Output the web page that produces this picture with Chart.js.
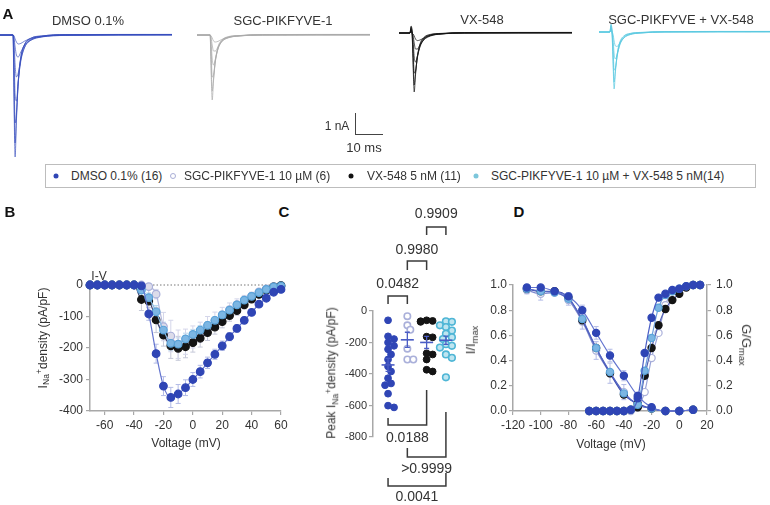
<!DOCTYPE html>
<html>
<head>
<meta charset="utf-8">
<script src="https://cdn.jsdelivr.net/npm/chart.js@4.4.0/dist/chart.umd.min.js"></script>
<style>
body { margin: 0; background: #fff; font-family: "Liberation Sans", Arial, sans-serif; color: #333; }
#fig { position: relative; width: 770px; height: 505px; overflow: hidden; }
canvas { position: absolute; }
.t { position: absolute; white-space: nowrap; font-size: 12px; line-height: 1; color: #333; transform: translate(-50%, -50%); }
.rotL { transform: translate(-50%, -50%) rotate(-90deg); }
.rotR { transform: translate(-50%, -50%) rotate(90deg); }
.letra { font-weight: bold; font-size: 15px; color: #111; }
.sub { font-size: 0.72em; vertical-align: -0.3em; }
.sup { font-size: 0.72em; vertical-align: 0.5em; }
#leyenda { position: absolute; left: 45px; top: 164px; width: 709px; height: 22px; border: 1px solid #bdbdbd; }
.punto { position: absolute; width: 5px; height: 5px; border-radius: 50%; transform: translate(-50%, -50%); top: 11px; }
.item { position: absolute; top: 11px; font-size: 12px; white-space: nowrap; transform: translateY(-50%); color: #333; }
</style>
</head>
<body>
<div id="fig">
  <!-- A: trazos -->
  <canvas id="trDmso" width="172" height="140" style="left:0px;top:21px"></canvas>
  <canvas id="trSgc" width="173" height="140" style="left:197px;top:21px"></canvas>
  <canvas id="trVx" width="173" height="140" style="left:399px;top:19px"></canvas>
  <canvas id="trCombo" width="172" height="140" style="left:599px;top:18px"></canvas>
  <!-- B, C, D -->
  <canvas id="grafB" width="300" height="200" style="left:0px;top:250px"></canvas>
  <canvas id="grafC" width="180" height="305" style="left:300px;top:200px"></canvas>
  <canvas id="grafD" width="290" height="200" style="left:480px;top:250px"></canvas>

  <div class="t letra" style="left:8px;top:13px">A</div>
  <div class="t letra" style="left:10px;top:211px">B</div>
  <div class="t letra" style="left:284px;top:211px">C</div>
  <div class="t letra" style="left:519px;top:211px">D</div>

  <div class="t" style="left:88px;top:20px;font-size:13px">DMSO 0.1%</div>
  <div class="t" style="left:283px;top:20px;font-size:13px">SGC-PIKFYVE-1</div>
  <div class="t" style="left:482px;top:19px;font-size:13px">VX-548</div>
  <div class="t" style="left:681px;top:19px;font-size:13px">SGC-PIKFYVE + VX-548</div>

  <!-- barra de escala -->
  <div style="position:absolute;left:355px;top:113px;width:27px;height:21px;border-left:1px solid #444;border-bottom:1px solid #444"></div>
  <div class="t" style="left:337px;top:126px">1 nA</div>
  <div class="t" style="left:364px;top:147px;font-size:13px">10 ms</div>

  <div id="leyenda">
    <span class="punto" style="left:10px;background:#2f45b5"></span>
    <span class="item" style="left:25px">DMSO 0.1% (16)</span>
    <span class="punto" style="left:127px;background:#fff;border:1px solid #a9aed6;width:4px;height:4px"></span>
    <span class="item" style="left:138px">SGC-PIKFYVE-1 10 µM (6)</span>
    <span class="punto" style="left:305px;background:#111"></span>
    <span class="item" style="left:321px">VX-548 5 nM (11)</span>
    <span class="punto" style="left:430px;background:#7cc6db"></span>
    <span class="item" style="left:445px">SGC-PIKFYVE-1 10 µM + VX-548 5 nM(14)</span>
  </div>

  <div class="t" style="left:99px;top:276px">I-V</div>
  <div class="t rotL" style="left:43px;top:338px">I<span class="sub">Na</span><span class="sup">+</span>density (pA/pF)</div>
  <div class="t" style="left:186px;top:443px">Voltage (mV)</div>

  <div class="t rotL" style="left:332px;top:373px">Peak I<span class="sub">Na</span><span class="sup">+</span>density (pA/pF)</div>

  <div class="t rotL" style="left:472px;top:340px;font-size:13px">I/I<span class="sub">max</span></div>
  <div class="t rotR" style="left:745px;top:345px;font-size:13px">G/G<span class="sub">max</span></div>
  <div class="t" style="left:611px;top:444px">Voltage (mV)</div>
</div>

<script>
// ---------- Panel A: corrientes (tiempo en ms, corriente en nA) ----------
const tiempos = [0, 4.2, 4.6, 5, 5.4, 5.8, 6.3, 7, 8, 9.5, 12, 16, 25, 66];

const trazosDmso = [
    [0, 0, 0, 0, -3.6, -6.1, -4.3, -2.4, -1.1, -0.45, -0.15, -0.05, 0.02, 0.03],
    [0, 0, 0, 0, -3.0, -5.4, -4.1, -2.3, -1.1, -0.45, -0.15, -0.05, 0.02, 0.02],
    [0, 0, 0, 0, -2.0, -4.4, -3.9, -2.4, -1.2, -0.5, -0.2, -0.06, 0.01, 0.02],
    [0, 0, 0, 0, -1.0, -3.0, -3.3, -2.3, -1.3, -0.6, -0.22, -0.08, 0, 0.02],
    [0, 0, 0, 0, -0.4, -1.5, -2.1, -1.9, -1.2, -0.6, -0.25, -0.09, 0, 0.01],
    [0, 0, 0, 0, -0.15, -0.6, -1.0, -1.1, -0.85, -0.5, -0.25, -0.1, -0.02, 0.01],
    [0, 0, 0, 0, -0.05, -0.2, -0.35, -0.45, -0.42, -0.3, -0.17, -0.08, -0.02, 0]
];
const trazosSgc = [
    [0, 0, 0, 0, -1.9, -3.25, -2.3, -1.3, -0.6, -0.25, -0.08, -0.03, 0.02, 0.03],
    [0, 0, 0, 0, -1.5, -2.8, -2.2, -1.3, -0.65, -0.28, -0.1, -0.03, 0.01, 0.02],
    [0, 0, 0, 0, -0.9, -2.1, -2.0, -1.3, -0.7, -0.3, -0.12, -0.04, 0.01, 0.02],
    [0, 0, 0, 0, -0.4, -1.2, -1.5, -1.2, -0.7, -0.33, -0.13, -0.05, 0, 0.01],
    [0, 0, 0, 0, -0.15, -0.5, -0.8, -0.8, -0.6, -0.32, -0.14, -0.05, 0, 0.01],
    [0, 0, 0, 0, -0.05, -0.15, -0.3, -0.35, -0.32, -0.22, -0.11, -0.04, 0, 0]
];
const trazosVx = [
    [0, 0, 0.35, 0, -1.7, -2.95, -2.1, -1.2, -0.55, -0.22, -0.07, -0.02, 0.02, 0.03],
    [0, 0, 0.3, 0, -1.4, -2.6, -2.0, -1.2, -0.6, -0.25, -0.09, -0.03, 0.01, 0.02],
    [0, 0, 0.25, 0, -0.9, -2.0, -1.9, -1.25, -0.65, -0.3, -0.11, -0.04, 0.01, 0.02],
    [0, 0, 0.2, 0, -0.4, -1.2, -1.45, -1.15, -0.7, -0.33, -0.13, -0.05, 0, 0.01],
    [0, 0, 0.15, 0, -0.15, -0.5, -0.8, -0.8, -0.6, -0.34, -0.15, -0.05, 0, 0.01],
    [0, 0, 0.1, 0, -0.05, -0.15, -0.3, -0.38, -0.35, -0.25, -0.12, -0.04, 0, 0]
];
const trazosCombo = [
    [0, 0, 0.4, 0, -1.6, -2.85, -2.0, -1.1, -0.5, -0.2, -0.07, -0.02, 0.02, 0.03],
    [0, 0, 0.35, 0, -1.3, -2.5, -1.9, -1.1, -0.55, -0.23, -0.08, -0.03, 0.01, 0.02],
    [0, 0, 0.3, 0, -0.8, -1.9, -1.8, -1.2, -0.6, -0.27, -0.1, -0.04, 0.01, 0.02],
    [0, 0, 0.2, 0, -0.35, -1.1, -1.35, -1.1, -0.65, -0.3, -0.12, -0.05, 0, 0.01],
    [0, 0, 0.15, 0, -0.12, -0.45, -0.7, -0.72, -0.55, -0.3, -0.13, -0.05, 0, 0.01]
];

// ---------- Panel B: curva I-V ----------
const voltajesB = [-70, -65, -60, -55, -50, -45, -40, -35, -30, -25, -20, -15, -10, -5, 0, 5, 10, 15, 20, 25, 30, 35, 40, 45, 50, 55, 60];
const ivDmso = [0, 0, 0, 0, 0, 0, 0, -3, -92, -218, -321, -357, -346, -326, -300, -275, -247, -220, -193, -164, -138, -112, -87, -61, -42, -23, -14];
const ivSgc = [0, 0, 0, 0, 0, 0, 0, 0, -5, -29, -132, -162, -188, -180, -165, -150, -130, -113, -95, -78, -62, -48, -35, -22, -12, -5, -2];
const ivVx = [0, 0, 0, 0, 0, 0, 0, -46, -51, -111, -159, -193, -201, -196, -183, -169, -151, -134, -116, -97, -81, -63, -45, -30, -16, -6, -2];
const ivCombo = [0, 0, 0, 0, 0, 0, 0, -16, -40, -85, -143, -185, -188, -171, -157, -143, -128, -112, -95, -80, -63, -48, -36, -24, -14, -6, -3];
const errDmso = [0, 0, 0, 0, 0, 0, 0, 5, 20, 30, 30, 32, 30, 25, 22, 20, 18, 16, 15, 13, 12, 10, 9, 8, 6, 5, 4];
const errSgc = [0, 0, 0, 0, 0, 0, 0, 0, 5, 15, 45, 50, 45, 40, 35, 32, 30, 27, 24, 21, 18, 15, 12, 9, 7, 5, 3];
const errVx = [0, 0, 0, 0, 0, 0, 0, 35, 50, 40, 35, 40, 38, 35, 30, 28, 25, 22, 20, 18, 15, 13, 11, 9, 7, 5, 4];
const errCombo = [0, 0, 0, 0, 0, 0, 0, 8, 15, 20, 25, 22, 20, 18, 16, 14, 12, 11, 10, 9, 8, 7, 6, 5, 4, 3, 3];

// ---------- Panel C: pico de densidad por celula ----------
const gruposC = ['DMSO 0.1%', 'SGC-PIKFYVE-1', 'VX-548', 'SGC-PIKFYVE-1 + VX-548'];
const picoDmso = [-59, -161, -178, -200, -221, -243, -276, -308, -352, -384, -427, -460, -471, -525, -601, -612];
const picoSgc = [-33, -91, -119, -239, -308, -308];
const picoVx = [-59, -63, -65, -69, -163, -167, -269, -276, -308, -373, -384];
const picoCombo = [-65, -69, -91, -102, -124, -145, -167, -178, -211, -221, -232, -276, -297, -421];
const valoresP = ['0.0482', '0.9980', '0.9909', '0.0188', '>0.9999', '0.0041'];

// ---------- Panel D: inactivacion y activacion ----------
const voltajesInact = [-110, -100, -90, -80, -70, -60, -50, -40, -30, -20, -10, 0, 10];
const inactDmso = [0.98, 0.98, 0.95, 0.91, 0.80, 0.62, 0.44, 0.28, 0.12, 0.03, 0.0, 0.0, 0.01];
const inactSgc = [0.96, 0.93, 0.94, 0.88, 0.71, 0.48, 0.30, 0.15, 0.05, 0.02, 0.0, 0.0, 0.01];
const inactVx = [0.97, 0.95, 0.95, 0.90, 0.72, 0.50, 0.30, 0.13, 0.06, 0.02, 0.0, 0.0, 0.01];
const inactCombo = [0.97, 0.95, 0.94, 0.89, 0.73, 0.50, 0.31, 0.14, 0.05, 0.02, 0.0, 0.0, 0.01];
const errInactDmso = [0.02, 0.02, 0.02, 0.03, 0.04, 0.05, 0.05, 0.04, 0.03, 0.02, 0.01, 0.01, 0.01];
const errInactSgc = [0.03, 0.05, 0.02, 0.04, 0.06, 0.07, 0.08, 0.06, 0.04, 0.02, 0.01, 0.01, 0.01];

const voltajesAct = [-65, -60, -55, -50, -45, -40, -35, -30, -25, -20, -15, -10, -5, 0, 5, 10, 15];
const actDmso = [0, 0, 0, 0, 0, 0, 0.01, 0.10, 0.46, 0.74, 0.90, 0.93, 0.96, 0.97, 0.99, 1.0, 1.0];
const actSgc = [0, 0, 0, 0, 0, 0, 0, 0.03, 0.15, 0.42, 0.62, 0.84, 0.95, 0.97, 0.99, 1.0, 1.0];
const actVx = [0, 0, 0, 0, 0, 0, 0.01, 0.03, 0.28, 0.50, 0.68, 0.81, 0.88, 0.93, 0.98, 1.0, 1.0];
const actCombo = [0, 0, 0, 0, 0, 0, 0.01, 0.05, 0.32, 0.58, 0.82, 0.92, 0.95, 0.97, 0.99, 1.0, 1.0];

// colores
const AZUL = '#2f45b5';
const LAVANDA = '#aab0da';
const NEGRO = '#141414';

Chart.defaults.font.family = "'Liberation Sans', Arial, sans-serif";
Chart.defaults.font.size = 12;
Chart.defaults.color = '#333';
Chart.defaults.animation = false;
Chart.defaults.responsive = false;
Chart.defaults.plugins.legend.display = false;
Chart.defaults.plugins.tooltip.enabled = false;

function puntos(xs, ys) {
    return xs.map((x, i) => ({ x: x, y: ys[i] }));
}

// barras de error (SEM) con pequeños topes
function dibujarErrores(chart, arriba) {
    const ctx = chart.ctx;
    chart.data.datasets.forEach((ds, i) => {
        if (!ds.errs || !!ds.errArriba !== arriba) return;
        const meta = chart.getDatasetMeta(i);
        const ys = chart.scales[meta.yAxisID];
        const tope = ds.errTope || 2.5;
        ctx.save();
        ctx.strokeStyle = ds.errColor;
        ctx.lineWidth = ds.errAncho || 1;
        meta.data.forEach((p, j) => {
            const e = ds.errs[j];
            if (!e) return;
            const v = ds.data[j].y;
            const y1 = ys.getPixelForValue(v + e);
            const y2 = ys.getPixelForValue(v - e);
            ctx.beginPath();
            ctx.moveTo(p.x, y1); ctx.lineTo(p.x, y2);
            ctx.moveTo(p.x - tope, y1); ctx.lineTo(p.x + tope, y1);
            ctx.moveTo(p.x - tope, y2); ctx.lineTo(p.x + tope, y2);
            ctx.stroke();
        });
        ctx.restore();
    });
}
const barrasError = {
    id: 'barrasError',
    beforeDatasetsDraw(chart) { dibujarErrores(chart, false); },
    afterDatasetsDraw(chart) { dibujarErrores(chart, true); }
};

function eje(extra, ancho, alto) {
    const base = {
        type: 'linear',
        grid: { drawOnChartArea: false, drawTicks: true, tickLength: 4, color: '#a8a8a8', lineWidth: 1.2 },
        border: { color: '#a8a8a8', width: 1.5 },
        ticks: {}
    };
    const eje = Object.assign(base, extra);
    eje.ticks = Object.assign({ padding: 3, includeBounds: false, maxRotation: 0, autoSkip: false }, extra.ticks || {});
    eje.afterFit = function (s) {
        if (ancho !== undefined) s.width = ancho;
        if (alto !== undefined) s.height = alto;
    };
    return eje;
}

// ---------- A ----------
function dibujarTrazos(id, trazos, color) {
    new Chart(document.getElementById(id), {
        type: 'line',
        data: {
            datasets: trazos.map(tr => ({
                data: puntos(tiempos, tr),
                borderColor: color,
                borderWidth: 0.9,
                pointRadius: 0,
                cubicInterpolationMode: 'monotone'
            }))
        },
        options: {
            layout: { padding: 0 },
            scales: {
                x: { type: 'linear', min: 0, max: 66, display: false },
                y: { type: 'linear', min: -6.3, max: 0.7, display: false }
            }
        }
    });
}
dibujarTrazos('trDmso', trazosDmso, 'rgba(55, 78, 190, 0.75)');
dibujarTrazos('trSgc', trazosSgc, 'rgba(170, 170, 170, 0.8)');
dibujarTrazos('trVx', trazosVx, 'rgba(20, 20, 20, 0.8)');
dibujarTrazos('trCombo', trazosCombo, 'rgba(90, 200, 225, 0.8)');

// ---------- B ----------
function serieB(ys, errs, relleno, borde, linea, errColor) {
    return {
        data: puntos(voltajesB, ys),
        errs: errs, errColor: errColor,
        borderColor: linea, borderWidth: 1.2,
        pointBackgroundColor: relleno, pointBorderColor: borde, pointBorderWidth: 1.2,
        pointRadius: 3.8,
        cubicInterpolationMode: 'monotone',
        clip: false
    };
}
new Chart(document.getElementById('grafB'), {
    type: 'line',
    data: {
        datasets: [
            serieB(ivDmso, errDmso, AZUL, AZUL, '#6475cf', '#b3bbe6'),
            serieB(ivCombo, errCombo, '#7cb6e3', '#5aa3d8', '#86b9e2', '#b9d8ee'),
            serieB(ivVx, errVx, NEGRO, NEGRO, '#3d4470', '#c5c8d8'),
            serieB(ivSgc, errSgc, '#dcdcea', LAVANDA, '#b3b8dd', '#d4d6ea'),
            {
                data: puntos([-70, 60], [0, 0]),
                borderColor: '#777', borderWidth: 1, borderDash: [1.5, 2],
                pointRadius: 0, clip: false
            }
        ]
    },
    options: {
        layout: { padding: { left: 0, top: 35, right: 19, bottom: 0 } },
        scales: {
            x: eje({ min: -70, max: 60, ticks: { stepSize: 20, padding: 3 } }, undefined, 39),
            y: eje({ min: -400, max: 0, ticks: { stepSize: 100, padding: 3 } }, 90, undefined)
        }
    },
    plugins: [barrasError]
});

// ---------- C ----------
// reparto horizontal tipo enjambre para que no se encimen demasiado los puntos
function enjambre(vals, g) {
    const puestos = [];
    const pasos = [0, 1, -1, 2, -2];
    return vals.map(v => {
        const py = v * 126 / 800;
        let dx = 0;
        for (const s of pasos) {
            dx = s * 3;
            if (puestos.every(p => Math.hypot(p.x - dx, p.y - py) >= 5.2)) break;
        }
        puestos.push({ x: dx, y: py });
        return { x: g + dx / 19.3, y: v };
    });
}
function media(a) { return a.reduce((s, v) => s + v, 0) / a.length; }
function sem(a) {
    const m = media(a);
    const sd = Math.sqrt(a.reduce((s, v) => s + (v - m) * (v - m), 0) / (a.length - 1));
    return sd / Math.sqrt(a.length);
}
const gruposDatos = [picoDmso, picoSgc, picoVx, picoCombo];

// corchetes de comparacion (posicion vertical en px dentro del canvas)
const corchetes = [
    { a: 1, b: 2, y: 96, pa: 104, pb: 104, texto: valoresP[0], ty: 84 },
    { a: 2, b: 3, y: 61, pa: 70, pb: 70, texto: valoresP[1], ty: 50 },
    { a: 3, b: 4, y: 27, pa: 35, pb: 35, texto: valoresP[2], ty: 14 },
    { a: 1, b: 3, y: 225, pa: 218, pb: 190, texto: valoresP[3], ty: 238 },
    { a: 2, b: 4, y: 257, pa: 248, pb: 212, texto: valoresP[4], ty: 269 },
    { a: 1, b: 4, y: 286, pa: 278, pb: 273, texto: valoresP[5], ty: 297 }
];
const pluginCorchetes = {
    id: 'corchetes',
    afterDraw(chart) {
        const ctx = chart.ctx;
        const xs = chart.scales.x;
        ctx.save();
        ctx.strokeStyle = '#3a3a3a';
        ctx.lineWidth = 1.5;
        ctx.fillStyle = '#333';
        ctx.font = "14px 'Liberation Sans', Arial, sans-serif";
        ctx.textAlign = 'center';
        ctx.textBaseline = 'middle';
        corchetes.forEach(c => {
            const xa = xs.getPixelForValue(c.a);
            const xb = xs.getPixelForValue(c.b);
            ctx.beginPath();
            ctx.moveTo(xa, c.pa);
            ctx.lineTo(xa, c.y);
            ctx.lineTo(xb, c.y);
            ctx.lineTo(xb, c.pb);
            ctx.stroke();
            ctx.fillText(c.texto, (xa + xb) / 2, c.ty);
        });
        ctx.restore();
    }
};

new Chart(document.getElementById('grafC'), {
    type: 'scatter',
    data: {
        datasets: [
            {
                // media +- SEM
                data: gruposDatos.map((a, i) => ({ x: i + 1, y: media(a) })),
                errs: gruposDatos.map(a => sem(a)),
                errColor: '#4a5cc4', errArriba: true, errAncho: 1.3, errTope: 2.5,
                pointStyle: 'line', pointRadius: 6.5, pointBorderWidth: 1.6,
                pointBorderColor: '#4a5cc4', clip: false
            },
            { data: enjambre(picoDmso, 1), pointRadius: 3.4, pointBackgroundColor: AZUL, pointBorderColor: AZUL, clip: false },
            { data: enjambre(picoSgc, 2), pointRadius: 3.2, pointBackgroundColor: '#fff', pointBorderColor: LAVANDA, pointBorderWidth: 1.6, clip: false },
            { data: enjambre(picoVx, 3), pointRadius: 3.4, pointBackgroundColor: NEGRO, pointBorderColor: NEGRO, clip: false },
            { data: enjambre(picoCombo, 4), pointRadius: 3.3, pointBackgroundColor: '#bfe5f0', pointBorderColor: '#4fb6d6', pointBorderWidth: 1.6, clip: false }
        ]
    },
    options: {
        layout: { padding: { left: 0, top: 111, right: 20, bottom: 68 } },
        scales: {
            x: { type: 'linear', min: 0.22, max: 4.73, display: false },
            y: eje({ min: -800, max: 0, ticks: { stepSize: 200, padding: 2, font: { size: 11 } } }, 73, undefined)
        }
    },
    plugins: [barrasError, pluginCorchetes]
});

// ---------- D ----------
function serieD(xs, ys, ejeY, relleno, borde, linea, errs) {
    return {
        data: puntos(xs, ys),
        yAxisID: ejeY,
        errs: errs, errColor: '#b3bbe6',
        borderColor: linea, borderWidth: 1.2,
        pointBackgroundColor: relleno, pointBorderColor: borde, pointBorderWidth: 1.2,
        pointRadius: 3.6,
        cubicInterpolationMode: 'monotone',
        clip: false
    };
}
new Chart(document.getElementById('grafD'), {
    type: 'line',
    data: {
        datasets: [
            serieD(voltajesInact, inactDmso, 'y', AZUL, AZUL, '#6475cf', errInactDmso),
            serieD(voltajesAct, actDmso, 'y2', AZUL, AZUL, '#4d60c6'),
            serieD(voltajesAct, actCombo, 'y2', '#7cb6e3', '#5aa3d8', '#6f9fdc'),
            serieD(voltajesAct, actVx, 'y2', NEGRO, NEGRO, '#5562b5'),
            serieD(voltajesAct, actSgc, 'y2', '#fff', LAVANDA, '#9aa4d8'),
            serieD(voltajesInact, inactCombo, 'y', '#7cb6e3', '#5aa3d8', '#5567c4'),
            serieD(voltajesInact, inactVx, 'y', NEGRO, NEGRO, '#3b4ab0'),
            serieD(voltajesInact, inactSgc, 'y', '#fff', LAVANDA, '#7f8bd0', errInactSgc)
        ]
    },
    options: {
        layout: { padding: { left: 0, top: 35, right: 0, bottom: 0 } },
        scales: {
            x: eje({ min: -120, max: 20, ticks: { stepSize: 20, padding: 3 } }, undefined, 39),
            y: eje({ min: 0, max: 1, position: 'left', ticks: { stepSize: 0.2, padding: 2, callback: v => v.toFixed(1) } }, 33, undefined),
            y2: eje({ min: 0, max: 1, position: 'right', ticks: { stepSize: 0.2, padding: 5, callback: v => v.toFixed(1) } }, 63, undefined)
        }
    },
    plugins: [barrasError]
});
</script>
</body>
</html>
